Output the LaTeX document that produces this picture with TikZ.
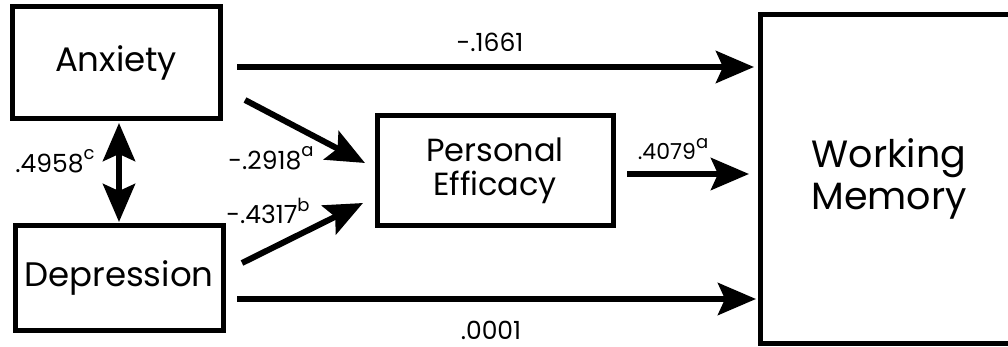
\documentclass[tikz,border=0pt]{standalone}
\usepackage{fontspec}
\setmainfont{Poppins}
\usetikzlibrary{arrows.meta}
\tikzset{
  tip/.tip={Stealth[length=38pt,width=32pt,inset=7pt]},
  box/.style={draw, line width=5pt, inner sep=0pt, align=center},
  path/.style={line width=6pt, -tip},
  both/.style={line width=6pt, tip-tip},
  lbl/.style={font=\fontsize{25}{28}\selectfont, inner sep=0pt}
}
\newcommand{\sups}[1]{\raisebox{0.5em}{\fontsize{18}{20}\selectfont #1}}
\begin{document}
\begin{tikzpicture}[x=1pt,y=-1pt]
\useasboundingbox (0,0) rectangle (1008,347);
\node[box, minimum width=208pt, minimum height=112pt, font=\fontsize{34}{38}\selectfont] (anx) at (116,63) {Anxiety};
\node[box, minimum width=208pt, minimum height=104pt, font=\fontsize{34}{38}\selectfont] (dep) at (119,278) {Depression};
\node[box, minimum width=236pt, minimum height=110pt, font=\fontsize{32}{34}\selectfont] (pe) at (495,171) {Personal\\Efficacy};
\node[box, minimum width=258pt, minimum height=329pt, font=\fontsize{38}{42}\selectfont] (wm) at (889,179) {Working\\Memory};
\coordinate (a1) at (237,67);
\coordinate (a1e) at (754,67);
\coordinate (d1) at (237,299);
\coordinate (d1e) at (756,299);
\coordinate (a2) at (245,100);
\coordinate (a2e) at (365,163);
\coordinate (d2) at (242,263);
\coordinate (d2e) at (363,203);
\coordinate (p1) at (627,174);
\coordinate (p1e) at (749,174);
\coordinate (u1) at (119,123);
\coordinate (u1e) at (119,222);
\draw[path] (a1) -- (a1e);
\draw[path] (d1) -- (d1e);
\draw[path] (a2) -- (a2e);
\draw[path] (d2) -- (d2e);
\draw[path] (p1) -- (p1e);
\draw[both] (u1) -- (u1e);
\node[lbl] (l1) at (490,42) {-.1661};
\node[lbl] (l2) at (491,330) {.0001};
\node[lbl] (l3) at (271,158) {-.2918\sups{a}};
\node[lbl] (l4) at (268,211) {-.4317\sups{b}};
\node[lbl, font=\fontsize{22}{25}\selectfont] (l5) at (673,149) {.4079\sups{a}};
\node[lbl] (l6) at (55,161) {.4958\sups{c}};
\end{tikzpicture}
\end{document}
